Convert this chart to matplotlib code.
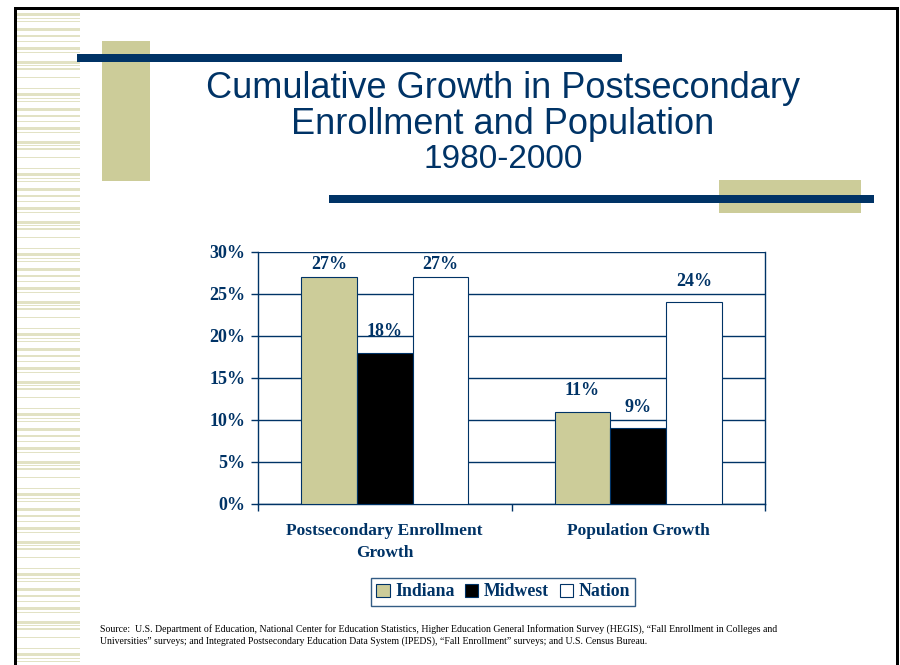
import matplotlib
matplotlib.use('Agg')
import matplotlib.pyplot as plt
from matplotlib.patches import Rectangle
import numpy as np

# ==================== data ====================
categories = ['Postsecondary Enrollment\nGrowth', 'Population Growth']
series_names = ['Indiana', 'Midwest', 'Nation']
indiana = [27, 11]
midwest = [18, 9]
nation = [27, 24]
y_ticks = [0, 5, 10, 15, 20, 25, 30]

NAVY = '#003366'
TAN = '#CCCC99'
STRIPE = '#E2E2C4'
W, H = 900, 665

fig = plt.figure(figsize=(9, 6.65), dpi=100, facecolor='white')


def px_rect(x0, y0, x1, y1, color, z=1):
    # rectangle given in pixel coords measured from the top-left corner
    fig.patches.append(Rectangle((x0 / W, 1 - y1 / H), (x1 - x0) / W, (y1 - y0) / H,
                                 transform=fig.transFigure, color=color, zorder=z, lw=0))


# ==================== slide decoration ====================
# slide border
px_rect(15, 7, 898, 10, 'black', 5)
px_rect(14, 7, 17, H, 'black', 5)
px_rect(896, 7, 899, H, 'black', 5)

# striped band on the left edge
pattern = [(0, 3), (5, 1), (8, 1), (15, 3), (22, 2), (28, 1), (34, 3), (39, 1),
           (48, 3), (52, 1), (55, 2), (64, 1), (75, 1)]
period = 80
for start in range(13, H, period):
    for off, th in pattern:
        y = start + off
        if y < H:
            px_rect(17, y, 80, y + th, STRIPE, 2)

px_rect(102, 41, 150, 181, TAN, 3)
px_rect(77, 54, 622, 62, NAVY, 4)
px_rect(719, 180, 861, 213, TAN, 3)
px_rect(329, 195, 874, 203, NAVY, 4)

# ==================== title ====================
fig.text(503 / W, 1 - 88 / H, 'Cumulative Growth in Postsecondary', ha='center', va='center',
         fontsize=26, color=NAVY, family='Liberation Sans')
fig.text(503 / W, 1 - 124 / H, 'Enrollment and Population', ha='center', va='center',
         fontsize=26, color=NAVY, family='Liberation Sans')
fig.text(503 / W, 1 - 160 / H, '1980-2000', ha='center', va='center',
         fontsize=24, color=NAVY, family='Liberation Sans')

# ==================== bar chart ====================
ax = fig.add_axes([258 / W, (H - 504) / H, 507 / W, 252 / H])
x = np.arange(len(categories))
bw = 0.22
ymax = 30
serif = dict(family='Liberation Serif', fontweight='bold', color=NAVY)

for i, (vals, col) in enumerate(zip([indiana, midwest, nation], [TAN, 'black', 'white'])):
    b = ax.bar(x + (i - 1) * bw, vals, bw, color=col, edgecolor=NAVY, linewidth=0.8,
               zorder=3, label=series_names[i])
    for rect, v in zip(b, vals):
        # labels near the top of the axis are pushed down onto the bar
        off = 9 if v <= 25 else 3
        ax.annotate(f'{v}%', (rect.get_x() + rect.get_width() / 2, v),
                    xytext=(0, off), textcoords='offset points', ha='center', va='bottom',
                    fontsize=13, **serif)

ax.set_xlim(-0.5, 1.5)
ax.set_ylim(0, ymax)
ax.set_yticks(y_ticks)
ax.set_yticklabels([f'{t}%' for t in y_ticks], fontsize=13, **serif)
ax.yaxis.grid(True, color=NAVY, linewidth=1, zorder=0)
ax.set_axisbelow(True)

# category ticks sit at the group boundaries, labels at group centres
ax.set_xticks([-0.5, 0.5, 1.5])
ax.set_xticklabels([])
ax.set_xticks(x, minor=True)
ax.set_xticklabels(categories, minor=True, fontsize=12.5, linespacing=1.45, **serif)
ax.tick_params(axis='x', which='minor', length=0, pad=14)
ax.tick_params(axis='x', which='major', direction='out', length=5, color=NAVY, width=1)
ax.tick_params(axis='y', direction='out', length=5, color=NAVY, width=1, pad=4)

for s in ['left', 'right', 'bottom']:
    ax.spines[s].set_color(NAVY)
    ax.spines[s].set_linewidth(1)
ax.spines['top'].set_visible(False)

leg = fig.legend(loc='center', bbox_to_anchor=(503 / W, 1 - 592 / H), ncol=3,
                 prop=dict(family='Liberation Serif', weight='bold', size=12.8),
                 handlelength=0.75, handleheight=0.75, handletextpad=0.3,
                 columnspacing=0.6, borderpad=0.3, fancybox=False, frameon=True)
leg.get_frame().set_edgecolor(NAVY)
leg.get_frame().set_linewidth(1)
for t in leg.get_texts():
    t.set_color(NAVY)

# ==================== source note ====================
fig.text(100 / W, 1 - 635 / H,
         'Source:  U.S. Department of Education, National Center for Education Statistics, '
         'Higher Education General Information Survey (HEGIS), \u201cFall Enrollment in Colleges and\n'
         'Universities\u201d surveys; and Integrated Postsecondary Education Data System (IPEDS), '
         '\u201cFall Enrollment\u201d surveys; and U.S. Census Bureau.',
         ha='left', va='center', fontsize=7, family='Liberation Serif', color='black',
         linespacing=1.35)

plt.savefig('out.png', dpi=100, facecolor='white')
